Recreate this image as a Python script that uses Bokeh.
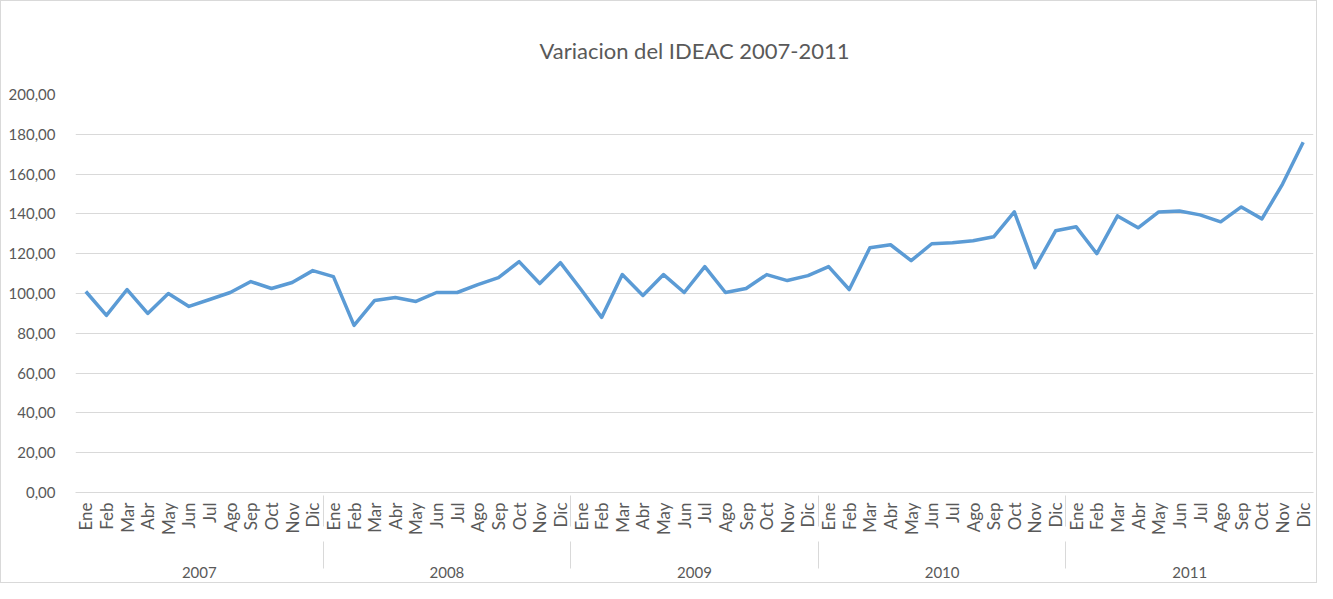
import math
from bokeh.plotting import figure
from bokeh.models import FactorRange, Range1d, FixedTicker, ColumnDataSource, CategoricalAxis
from bokeh.embed import file_html
from bokeh.resources import INLINE

years = ["2007", "2008", "2009", "2010", "2011"]
months = ["Ene", "Feb", "Mar", "Abr", "May", "Jun", "Jul", "Ago", "Sep", "Oct", "Nov", "Dic"]

ideac_2007 = [101.0, 89.0, 102.0, 90.0, 100.0, 93.5, 97.0, 100.5, 106.0, 102.5, 105.5, 111.5]
ideac_2008 = [108.5, 84.0, 96.5, 98.0, 96.0, 100.5, 100.5, 104.5, 108.0, 116.0, 105.0, 115.5]
ideac_2009 = [102.0, 88.0, 109.5, 99.0, 109.5, 100.5, 113.5, 100.5, 102.5, 109.5, 106.5, 109.0]
ideac_2010 = [113.5, 102.0, 123.0, 124.5, 116.5, 125.0, 125.5, 126.5, 128.5, 141.0, 113.0, 131.5]
ideac_2011 = [133.5, 120.0, 139.0, 133.0, 141.0, 141.5, 139.5, 136.0, 143.5, 137.5, 155.0, 176.0]

y_ticks = [0, 20, 40, 60, 80, 100, 120, 140, 160, 180, 200]
y_tick_labels = ["0,00", "20,00", "40,00", "60,00", "80,00", "100,00",
                 "120,00", "140,00", "160,00", "180,00", "200,00"]

factors = [(y, m) for y in years for m in months]
values = ideac_2007 + ideac_2008 + ideac_2009 + ideac_2010 + ideac_2011

source = ColumnDataSource(data=dict(x=factors, y=values))

TEXT = "#595959"
GRID = "#d9d9d9"
FONT = "Lato"

p = figure(
    width=1317, height=583,
    x_range=FactorRange(*factors, group_padding=0, factor_padding=0, subgroup_padding=0, range_padding=0),
    y_range=Range1d(0, 200),
    output_backend="svg", toolbar_location=None,
    title="Variacion del IDEAC 2007-2011",
    min_border_left=74, min_border_right=5, min_border_top=93, min_border_bottom=92,
)
p.styles = {"border": "1px solid #d9d9d9"}

p.title.align = "center"
p.title.text_font = FONT
p.title.text_font_size = "22px"
p.title.text_font_style = "normal"
p.title.text_color = TEXT
p.title.standoff = 62

p.line(x="x", y="y", source=source, line_color="#5b9bd5", line_width=3.5, line_join="round")

p.outline_line_color = None
p.xgrid.grid_line_color = None
p.ygrid.grid_line_color = GRID
p.ygrid.grid_line_width = 1
p.ygrid.ticker = FixedTicker(ticks=y_ticks)

p.yaxis.ticker = FixedTicker(ticks=y_ticks)
p.yaxis.major_label_overrides = {t: l for t, l in zip(y_ticks, y_tick_labels)}
p.yaxis.axis_line_color = None
p.yaxis.major_tick_line_color = None
p.yaxis.minor_tick_line_color = None
p.yaxis.major_label_text_font = FONT
p.yaxis.major_label_text_font_size = "15px"
p.yaxis.major_label_text_color = TEXT
p.yaxis.major_label_standoff = 14

# month level (with group separators), year text hidden here
xa = p.xaxis[0]
xa.axis_line_color = GRID
xa.major_tick_line_color = None
xa.minor_tick_line_color = None
xa.major_label_orientation = math.pi / 2
xa.major_label_text_font = FONT
xa.major_label_text_font_size = "17px"
xa.major_label_text_color = TEXT
xa.major_label_standoff = 4
xa.group_text_color = None
xa.separator_line_color = GRID
xa.separator_line_width = 1

# year level on its own axis below the months
p.extra_x_ranges = {"years": FactorRange(*factors, group_padding=0, factor_padding=0,
                                         subgroup_padding=0, range_padding=0)}
ya = CategoricalAxis(x_range_name="years")
ya.axis_line_color = None
ya.major_tick_line_color = None
ya.minor_tick_line_color = None
ya.major_label_text_color = None
ya.major_label_standoff = 22
ya.group_text_font = FONT
ya.group_text_font_size = "15px"
ya.group_text_font_style = "normal"
ya.group_text_color = TEXT
ya.separator_line_color = GRID
ya.separator_line_width = 1
p.add_layout(ya, "below")

open("out.html", "w").write(file_html(p, INLINE))
